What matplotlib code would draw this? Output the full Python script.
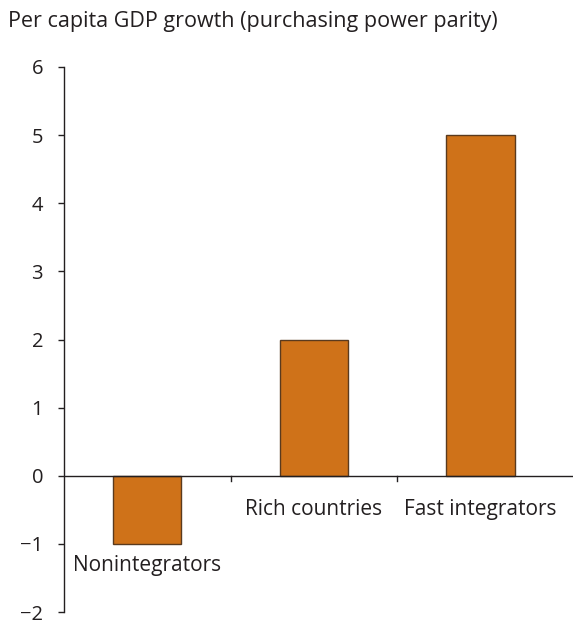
import numpy as np
import matplotlib
import matplotlib.pyplot as plt

matplotlib.rcParams['font.family'] = ['Open Sans', 'DejaVu Sans']
matplotlib.rcParams['axes.unicode_minus'] = True

# data
categories = ['Nonintegrators', 'Rich countries', 'Fast integrators']
growth = [-1, 2, 5]
yticks = [-2, -1, 0, 1, 2, 3, 4, 5, 6]

txt = '#231f20'
fs = 15
fig = plt.figure(figsize=(5.73, 6.23), dpi=100)
ax = fig.add_axes([64/573, 11/623, 1 - 64/573, (612 - 67)/623])

x = np.arange(len(categories))
ax.bar(x, growth, width=0.41, color='#cf7219', edgecolor='#5a3a1e', linewidth=1, zorder=2)

ax.set_xlim(-0.5, 2.555)
ax.set_ylim(-2, 6)
ax.set_yticks(yticks)
ax.set_yticklabels([str(v).replace('-', '\u2212') for v in yticks])
ax.tick_params(axis='y', direction='out', length=4, width=1, pad=11,
               labelsize=14.5, colors=txt)

for s in ['top', 'right', 'bottom']:
    ax.spines[s].set_visible(False)
ax.spines['left'].set_linewidth(1)
ax.spines['left'].set_color(txt)

# zero line with category separator ticks
ax.axhline(0, color=txt, linewidth=1, zorder=3)
ax.set_xticks([])
for xs in [0.5, 1.5]:
    ax.plot([xs, xs], [0, -0.075], color=txt, linewidth=1, clip_on=False)

# category labels under bars / zero line
for xi, v, name in zip(x, growth, categories):
    if v < 0:
        ax.annotate(name, (xi, v), xytext=(0, -15.5), textcoords='offset points',
                    ha='center', va='center', fontsize=fs, color=txt)
    else:
        ax.annotate(name, (xi, 0), xytext=(0, -24.5), textcoords='offset points',
                    ha='center', va='center', fontsize=fs, color=txt)

fig.text(8/573, 1 - 22/623, 'Per capita GDP growth (purchasing power parity)',
         ha='left', va='center', fontsize=15.5, color=txt)

fig.savefig('out.png', dpi=100)
